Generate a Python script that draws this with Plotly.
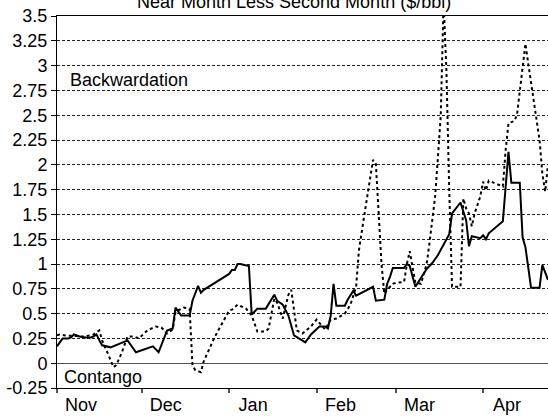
import plotly.graph_objects as go

# Near-month minus second-month spread, two contracts
solid_dates = [
    "2002-11-01", "2002-11-03", "2002-11-05", "2002-11-06", "2002-11-07", "2002-11-09",
    "2002-11-11", "2002-11-13", "2002-11-14", "2002-11-15", "2002-11-16", "2002-11-17",
    "2002-11-20", "2002-11-26", "2002-11-29", "2002-12-05", "2002-12-07", "2002-12-10",
    "2002-12-12", "2002-12-13", "2002-12-15", "2002-12-18", "2002-12-19", "2002-12-21",
    "2002-12-22", "2002-12-23", "2003-01-01", "2003-01-02", "2003-01-03", "2003-01-04",
    "2003-01-05", "2003-01-08", "2003-01-09", "2003-01-11", "2003-01-14", "2003-01-17",
    "2003-01-18", "2003-01-20", "2003-01-22", "2003-01-24", "2003-01-28", "2003-01-30",
    "2003-02-02", "2003-02-04", "2003-02-05", "2003-02-06", "2003-02-07", "2003-02-08",
    "2003-02-11", "2003-02-12", "2003-02-14", "2003-02-15", "2003-02-21", "2003-02-22",
    "2003-02-25", "2003-02-26", "2003-02-27", "2003-02-28", "2003-03-04", "2003-03-05",
    "2003-03-06", "2003-03-08", "2003-03-12", "2003-03-14", "2003-03-16", "2003-03-19",
    "2003-03-20", "2003-03-21", "2003-03-24", "2003-03-26", "2003-03-27", "2003-03-28",
    "2003-03-30", "2003-03-31", "2003-04-01", "2003-04-02", "2003-04-03", "2003-04-08",
    "2003-04-10", "2003-04-11", "2003-04-14", "2003-04-15", "2003-04-16", "2003-04-18",
    "2003-04-21", "2003-04-22", "2003-04-24",
]
solid_values = [
    0.17, 0.25, 0.25, 0.26, 0.29, 0.27,
    0.26, 0.26, 0.27, 0.29, 0.23, 0.18,
    0.16, 0.23, 0.11, 0.17, 0.11, 0.33,
    0.35, 0.56, 0.48, 0.48, 0.63, 0.78,
    0.71, 0.74, 0.90, 0.94, 0.94, 1.00,
    1.00, 0.98, 0.49, 0.55, 0.55, 0.69,
    0.63, 0.59, 0.48, 0.28, 0.21, 0.29,
    0.37, 0.37, 0.35, 0.48, 0.80, 0.58,
    0.58, 0.64, 0.73, 0.68, 0.77, 0.63,
    0.64, 0.80, 0.87, 0.96, 0.96, 1.00,
    0.98, 0.77, 0.95, 1.01, 1.09, 1.24,
    1.30, 1.51, 1.62, 1.44, 1.18, 1.28,
    1.27, 1.26, 1.29, 1.25, 1.31, 1.43,
    2.13, 1.82, 1.82, 1.27, 1.17, 0.76,
    0.76, 0.99, 0.84,
]

dotted_dates = [
    "2002-11-01", "2002-11-02", "2002-11-04", "2002-11-07", "2002-11-09", "2002-11-11",
    "2002-11-14", "2002-11-16", "2002-11-17", "2002-11-19", "2002-11-21", "2002-11-22",
    "2002-11-24", "2002-11-26", "2002-11-28", "2002-11-30", "2002-12-03", "2002-12-06",
    "2002-12-08", "2002-12-10", "2002-12-12", "2002-12-13", "2002-12-16", "2002-12-18",
    "2002-12-19", "2002-12-20", "2002-12-22", "2002-12-23", "2002-12-27", "2003-01-01",
    "2003-01-02", "2003-01-04", "2003-01-07", "2003-01-09", "2003-01-11", "2003-01-14",
    "2003-01-15", "2003-01-17", "2003-01-18", "2003-01-20", "2003-01-22", "2003-01-23",
    "2003-01-25", "2003-01-27", "2003-01-30", "2003-02-01", "2003-02-04", "2003-02-06",
    "2003-02-08", "2003-02-11", "2003-02-13", "2003-02-15", "2003-02-16", "2003-02-18",
    "2003-02-20", "2003-02-21", "2003-02-22", "2003-02-23", "2003-02-24", "2003-02-25",
    "2003-02-26", "2003-02-28", "2003-03-01", "2003-03-04", "2003-03-05", "2003-03-06",
    "2003-03-07", "2003-03-08", "2003-03-10", "2003-03-12", "2003-03-13", "2003-03-15",
    "2003-03-16", "2003-03-17", "2003-03-18", "2003-03-19", "2003-03-20", "2003-03-21",
    "2003-03-24", "2003-03-25", "2003-03-26", "2003-03-27", "2003-03-28", "2003-03-29",
    "2003-03-31", "2003-04-01", "2003-04-02", "2003-04-03", "2003-04-08", "2003-04-09",
    "2003-04-10", "2003-04-12", "2003-04-13", "2003-04-15", "2003-04-16", "2003-04-17",
    "2003-04-21", "2003-04-22", "2003-04-23", "2003-04-24",
]
dotted_values = [
    0.28, 0.29, 0.28, 0.27, 0.27, 0.27,
    0.29, 0.33, 0.23, 0.10, -0.04, -0.02,
    0.11, 0.27, 0.27, 0.25, 0.33, 0.37,
    0.36, 0.30, 0.34, 0.52, 0.56, 0.55,
    -0.02, -0.07, -0.09, 0.02, 0.27, 0.53,
    0.54, 0.59, 0.55, 0.48, 0.32, 0.32,
    0.35, 0.65, 0.61, 0.45, 0.69, 0.74,
    0.33, 0.30, 0.37, 0.44, 0.34, 0.44,
    0.45, 0.50, 0.59, 0.77, 1.14, 1.51,
    1.84, 2.05, 2.01, 1.47, 1.00, 0.70,
    0.74, 0.80, 0.81, 0.82, 1.00, 1.13,
    0.96, 0.81, 0.80, 1.00, 1.21, 1.68,
    2.08, 2.50, 3.65, 2.95, 1.75, 0.77,
    0.77, 1.66, 1.56, 1.51, 1.38, 1.51,
    1.68, 1.83, 1.74, 1.84, 1.78, 2.15,
    2.42, 2.44, 2.50, 2.99, 3.22, 3.02,
    2.25, 1.91, 1.73, 2.00,
]

month_starts = ["2002-11-01", "2002-12-01", "2003-01-01", "2003-02-01", "2003-03-01", "2003-04-01"]
month_labels = ["Nov", "Dec", "Jan", "Feb", "Mar", "Apr"]

y_ticks = [-0.25, 0, 0.25, 0.5, 0.75, 1, 1.25, 1.5, 1.75, 2, 2.25, 2.5, 2.75, 3, 3.25, 3.5]
y_tick_text = ["-0.25", "0", "0.25", "0.5", "0.75", "1", "1.25", "1.5", "1.75", "2",
               "2.25", "2.5", "2.75", "3", "3.25", "3.5"]

FONT = "Liberation Sans, Arial, sans-serif"

fig = go.Figure()
fig.add_trace(go.Scatter(
    x=dotted_dates, y=dotted_values, mode="lines",
    line=dict(color="black", width=2, dash="dot"),
    showlegend=False, hoverinfo="skip",
))
fig.add_trace(go.Scatter(
    x=solid_dates, y=solid_values, mode="lines",
    line=dict(color="black", width=2),
    showlegend=False, hoverinfo="skip",
))

fig.update_layout(
    width=548, height=417,
    margin=dict(l=57, r=0, t=16, b=29),
    paper_bgcolor="white", plot_bgcolor="white",
    font=dict(family=FONT, size=18, color="black"),
    xaxis=dict(
        type="date",
        range=["2002-11-01", "2003-04-24"],
        tickvals=month_starts, ticktext=month_labels,
        ticklabelshift=24, ticklabelstandoff=-4,
        ticks="outside", ticklen=4, tickwidth=2, tickcolor="#555",
        showgrid=False, zeroline=False,
        showline=True, linecolor="black", linewidth=1, mirror=True,
        tickfont=dict(size=18),
    ),
    yaxis=dict(
        range=[-0.25, 3.5],
        tickvals=y_ticks, ticktext=y_tick_text,
        ticks="outside", ticklen=5, tickwidth=1, tickcolor="black",
        showgrid=True, gridcolor="#222", gridwidth=1, griddash="3px,2px",
        zeroline=True, zerolinecolor="#555", zerolinewidth=1,
        showline=True, linecolor="black", linewidth=1,
        tickfont=dict(size=18),
    ),
    annotations=[
        dict(text="Near Month Less Second Month ($/bbl)", xref="paper", yref="paper",
             x=0.483, y=1, xanchor="center", yanchor="bottom", yshift=2,
             showarrow=False, font=dict(size=18)),
        dict(text="Backwardation", xref="paper", yref="y", x=0.0224, y=2.85,
             xanchor="left", yanchor="middle", showarrow=False, font=dict(size=18)),
        dict(text="Contango", xref="paper", yref="y", x=0.01, y=-0.135,
             xanchor="left", yanchor="middle", showarrow=False, font=dict(size=18)),
    ],
)

fig.write_html("out.html")
